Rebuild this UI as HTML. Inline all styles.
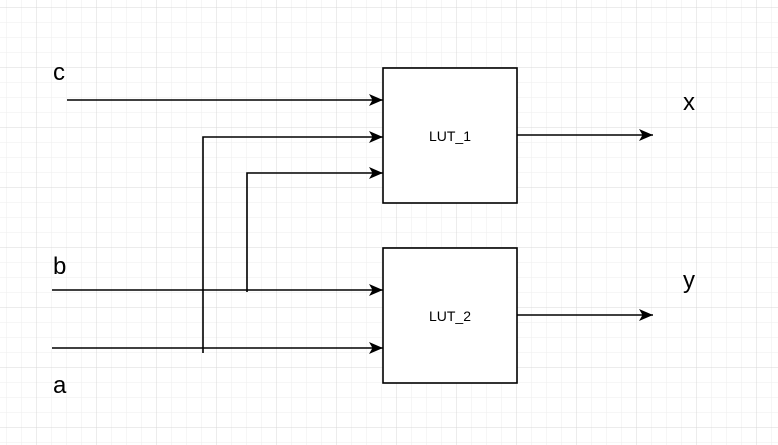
<!DOCTYPE html>
<html><head><style>
html,body{margin:0;padding:0;background:#fff;}
svg{display:block;}
text{font-family:"Liberation Sans",sans-serif;fill:#000;}
</style></head><body>
<svg width="778" height="445" xmlns="http://www.w3.org/2000/svg">
<defs>
<pattern id="minor" x="6" y="7" width="15" height="15" patternUnits="userSpaceOnUse">
<path d="M0 0H15M0 0V15" stroke="#eeeeee" stroke-width="1" fill="none"/>
</pattern>
<pattern id="major" x="36" y="7" width="60" height="60" patternUnits="userSpaceOnUse">
<path d="M0 0H60M0 0V60" stroke="#d8d8d8" stroke-width="1" fill="none"/>
</pattern>
<marker id="ar" markerWidth="15" markerHeight="13" refX="14" refY="6.5" orient="auto" markerUnits="userSpaceOnUse">
<path d="M0 0.5L14 6.5L0 12.5L3.5 6.5Z" fill="#000"/>
</marker>
</defs>
<rect width="778" height="445" fill="url(#minor)"/>
<rect width="778" height="445" fill="url(#major)"/>
<g stroke="#000" stroke-width="1.6" fill="none">
<line x1="67" y1="100" x2="383" y2="100" marker-end="url(#ar)"/>
<polyline points="203,353 203,137 383,137" marker-end="url(#ar)"/>
<polyline points="247,292 247,173 383,173" marker-end="url(#ar)"/>
<line x1="52" y1="290" x2="383" y2="290" marker-end="url(#ar)"/>
<line x1="52" y1="348" x2="383" y2="348" marker-end="url(#ar)"/>
<line x1="517" y1="135" x2="653" y2="135" marker-end="url(#ar)"/>
<line x1="517" y1="315" x2="653" y2="315" marker-end="url(#ar)"/>
</g>
<rect x="383" y="68" width="134" height="135" fill="#fff" stroke="#000" stroke-width="1.6"/>
<rect x="383" y="248" width="134" height="135" fill="#fff" stroke="#000" stroke-width="1.6"/>
<text x="450" y="141" font-size="14" text-anchor="middle">LUT_1</text>
<text x="450" y="321" font-size="14" text-anchor="middle">LUT_2</text>
<text x="53" y="80" font-size="24">c</text>
<text x="53" y="274" font-size="24">b</text>
<text x="53" y="393" font-size="24">a</text>
<text x="683" y="110" font-size="24">x</text>
<text x="683" y="288" font-size="24">y</text>
</svg>
</body></html>
